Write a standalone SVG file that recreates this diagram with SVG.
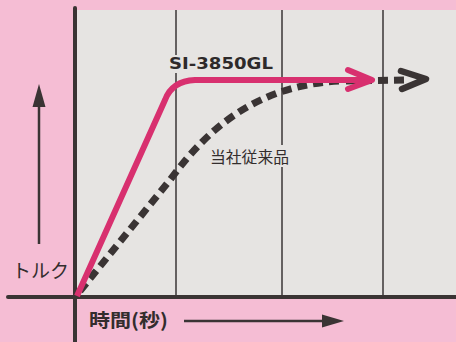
<svg xmlns="http://www.w3.org/2000/svg" width="456" height="342" viewBox="0 0 456 342">
<style>
.grid{stroke:#3a3636;stroke-width:1.5;fill:none}
.axis{stroke:#3a3434;stroke-width:4;fill:none;stroke-linecap:round}
.ind{stroke:#3a3434;stroke-width:2.5;fill:none}
.dash{fill:none;stroke:#3a3434;stroke-width:7;stroke-dasharray:10,6}
.jp{font-family:"Noto Sans CJK JP","Noto Sans",sans-serif;fill:#332d2d}
</style>
<rect width="456" height="342" fill="#f5bdd4"/>
<rect x="76" y="10" width="380" height="287" fill="#e6e4e2"/>
<g id="grid">
<line class="grid" x1="176" y1="10" x2="176" y2="297"/>
<line class="grid" x1="282" y1="10" x2="282" y2="297"/>
<line class="grid" x1="383" y1="10" x2="383" y2="297"/>
</g>
<g id="axes">
<line class="axis" x1="75" y1="8" x2="75" y2="344"/>
<line class="axis" x1="8" y1="297" x2="458" y2="297"/>
</g>
<g id="torque-label">
<line class="ind" x1="39" y1="244" x2="39" y2="100"/>
<path d="M39,84 L45.5,107 L32.5,107 Z" fill="#3a3434"/>
<text class="jp" x="12" y="278" font-size="19">トルク</text>
</g>
<g id="time-label">
<text class="jp" x="89" y="327" font-size="18.5" font-weight="bold" textLength="79" lengthAdjust="spacingAndGlyphs">時間(秒)</text>
<line class="ind" x1="184" y1="321" x2="326" y2="321"/>
<path d="M344,321 L322,314.5 L322,327.5 Z" fill="#3a3434"/>
</g>
<g id="connectors">
<path id="conventional" class="dash" d="M80,291 L170,180 C210,125 260,85 340,81"/>
<path class="dash" d="M340,81 L405,80" stroke-dashoffset="10"/>
<path d="M401,71 L426,79 L402,89" fill="none" stroke="#3a3434" stroke-width="6.5" stroke-linecap="round" stroke-linejoin="round"/>
<path id="si3850" d="M77,296 L165,100 Q172,81 195,80 L370,80" fill="none" stroke="#d8306f" stroke-width="6" stroke-linejoin="round"/>
<path d="M348,70 L372,80 L348,89" fill="none" stroke="#d8306f" stroke-width="6" stroke-linecap="round" stroke-linejoin="round"/>
</g>
<g id="label-si">
<rect x="168" y="55" width="106" height="18" fill="#e6e4e2"/>
<text x="169" y="69" font-family="DejaVu Sans" font-weight="bold" font-size="15" fill="#2e2a2a" textLength="104" lengthAdjust="spacingAndGlyphs">SI-3850GL</text>
</g>
<g id="label-conv">
<rect x="208" y="145" width="83" height="22" fill="#e6e4e2"/>
<text class="jp" x="210" y="163" font-size="15.5" textLength="79" lengthAdjust="spacingAndGlyphs">当社従来品</text>
</g>
</svg>
